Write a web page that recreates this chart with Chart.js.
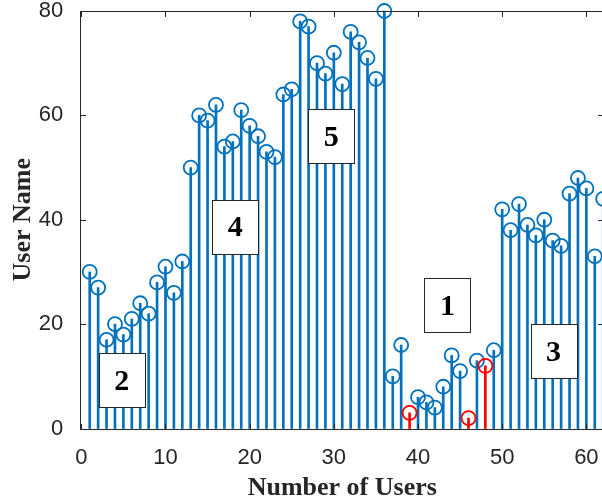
<!DOCTYPE html>
<html>
<head>
<meta charset="utf-8">
<script src="https://cdn.jsdelivr.net/npm/chart.js@4.4.1/dist/chart.umd.min.js"></script>
<style>
  html, body { margin: 0; padding: 0; background: #fff; overflow: hidden; }
  #wrap { position: relative; width: 612px; height: 504px; }
</style>
</head>
<body>
<div id="wrap"><canvas id="stemChart"></canvas></div>
<script>
// Values
const users = [
    1, 2, 3, 4, 5, 6, 7, 8, 9, 10, 11, 12, 13, 14, 15, 16, 17, 18, 19, 20, 21,
    22, 23, 24, 25, 26, 27, 28, 29, 30, 31, 32, 33, 34, 35, 36, 37, 38, 39, 40, 41,
    42, 43, 44, 45, 46, 47, 48, 49, 50, 51, 52, 53, 54, 55, 56, 57, 58, 59, 60, 61, 62
];
const userNames = [
    30, 27, 17, 20, 18, 21, 24, 22, 28, 31, 26, 32, 50, 60, 59, 62, 54, 55, 61, 58, 56,
    53, 52, 64, 65, 78, 77, 70, 68, 72, 66, 76, 74, 71, 67, 80, 10, 16, 3, 6, 5,
    4, 8, 14, 11, 2, 13, 12, 15, 42, 38, 43, 39, 37, 40, 36, 35, 45, 48, 46, 33, 44
];
const redUsers = [39, 46, 48];

const xTicks = [0, 10, 20, 30, 40, 50, 60];
const yTicks = [0, 20, 40, 60, 80];

// Numbered group boxes (data coordinates)
const groupLabels = ['1', '2', '3', '4', '5'];
const groupX = [43.5, 4.8, 56.1, 18.3, 29.7];
const groupY = [23.7, 9.2, 14.8, 38.7, 56.0];

const BLUE = '#0072BD';
const RED = '#FF0000';
const AXIS = '#262626';

const colors = users.map(u => redUsers.includes(u) ? RED : BLUE);
const points = users.map((u, i) => ({ x: u, y: userNames[i] }));

// Box, inward ticks and group labels, drawn like MATLAB's axes
const axesBox = {
    id: 'axesBox',
    afterDraw(chart) {
        const { ctx, chartArea: a, scales: { x, y } } = chart;
        const L = Math.floor(a.left) - 0.5;
        const R = Math.round(a.right) + 0.5;
        const T = Math.round(a.top) + 0.5;
        const B = Math.round(a.bottom) + 0.5;
        ctx.save();
        ctx.strokeStyle = AXIS;
        ctx.lineWidth = 1;
        ctx.beginPath();
        ctx.rect(L, T, R - L, B - T);
        xTicks.forEach(v => {
            const px = Math.round(x.getPixelForValue(v)) + 0.5;
            ctx.moveTo(px, B); ctx.lineTo(px, B - 5.5);
            ctx.moveTo(px, T); ctx.lineTo(px, T + 5.5);
        });
        yTicks.forEach(v => {
            const py = Math.round(y.getPixelForValue(v)) + 0.5;
            ctx.moveTo(L, py); ctx.lineTo(L + 5.5, py);
            ctx.moveTo(R, py); ctx.lineTo(R - 5.5, py);
        });
        ctx.stroke();

        ctx.font = 'bold 30px "Liberation Serif", "Times New Roman", serif';
        ctx.textAlign = 'center';
        ctx.textBaseline = 'middle';
        groupLabels.forEach((lab, i) => {
            const cx = x.getPixelForValue(groupX[i]);
            const cy = y.getPixelForValue(groupY[i]);
            const bx = Math.round(cx - 23) + 0.5;
            const by = Math.round(cy - 27) + 0.5;
            ctx.fillStyle = '#fff';
            ctx.fillRect(bx, by, 46, 54);
            ctx.strokeStyle = AXIS;
            ctx.strokeRect(bx, by, 46, 54);
            ctx.fillStyle = '#000';
            ctx.fillText(lab, cx, cy + 2);
        });
        ctx.restore();
    }
};

const tickFont = { family: '"Liberation Sans", Arial, sans-serif', size: 22 };
const titleFont = { family: '"Liberation Serif", "Times New Roman", serif', size: 26, weight: 'bold' };

const stemCtx = document.getElementById('stemChart').getContext('2d');

const stemChart = new Chart(stemCtx, {
    type: 'bar',
    data: {
        datasets: [
            {
                type: 'scatter',
                label: 'markers',
                data: points,
                pointStyle: 'circle',
                pointRadius: 7,
                pointHoverRadius: 7,
                pointBorderWidth: 1.8,
                pointBorderColor: colors,
                pointBackgroundColor: 'rgba(0,0,0,0)',
                showLine: false,
                clip: false,
                order: 0
            },
            {
                type: 'bar',
                label: 'stems',
                data: points,
                backgroundColor: colors,
                borderWidth: 0,
                barThickness: 2,
                clip: false,
                order: 1
            }
        ]
    },
    options: {
        responsive: true,
        maintainAspectRatio: false,
        animation: false,
        layout: {
            padding: { top: 11, right: 7.7, left: 0, bottom: 0 }
        },
        plugins: {
            legend: { display: false },
            tooltip: { enabled: false }
        },
        scales: {
            x: {
                type: 'linear',
                min: 0,
                max: 62,
                offset: false,
                grid: { display: false },
                border: { display: false },
                afterBuildTicks: (scale) => { scale.ticks = xTicks.map(v => ({ value: v })); },
                afterFit: (scale) => {
                    scale.height = 75.5;
                    scale.paddingLeft = 0; scale.paddingRight = 0;
                },
                ticks: {
                    color: AXIS,
                    font: tickFont,
                    padding: 8,
                    maxRotation: 0,
                    autoSkip: false
                },
                title: {
                    display: true,
                    text: 'Number of Users',
                    color: AXIS,
                    font: titleFont,
                    padding: { top: 0, bottom: 0 }
                }
            },
            y: {
                min: 0,
                max: 80,
                grid: { display: false },
                border: { display: false },
                afterBuildTicks: (scale) => { scale.ticks = yTicks.map(v => ({ value: v })); },
                afterFit: (scale) => {
                    scale.width = 81.3;
                    scale.paddingTop = 0; scale.paddingBottom = 0;
                },
                ticks: {
                    color: AXIS,
                    font: tickFont,
                    padding: 10
                },
                title: {
                    display: true,
                    text: 'User Name',
                    color: AXIS,
                    font: titleFont,
                    padding: { top: 8, bottom: 0 }
                }
            }
        }
    },
    plugins: [axesBox]
});
</script>
</body>
</html>
